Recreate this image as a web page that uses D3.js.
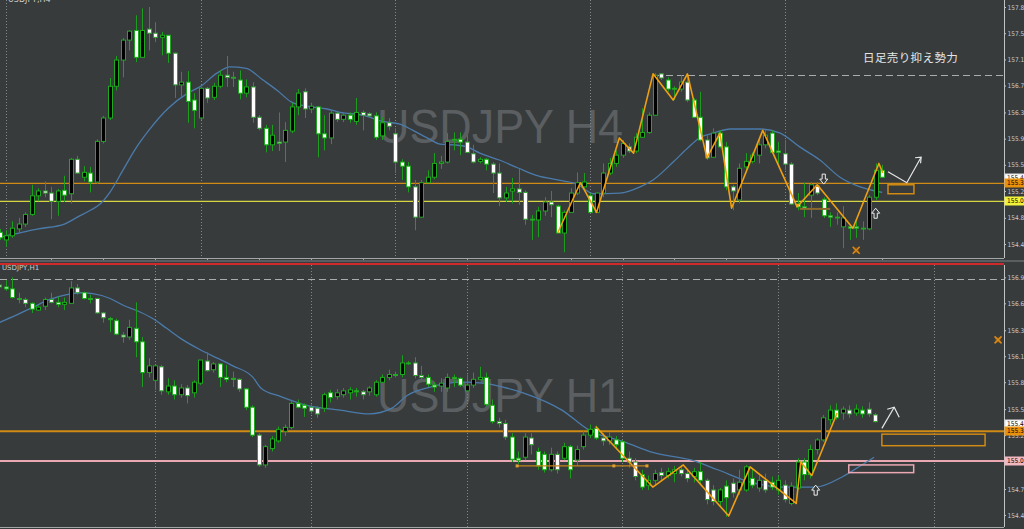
<!DOCTYPE html>
<html><head><meta charset="utf-8">
<script src="https://cdn.jsdelivr.net/npm/d3@7"></script>
<style>
html,body{margin:0;padding:0;background:#373b3c;overflow:hidden}
svg{display:block}
</style></head><body>
<svg id="chart" width="1024" height="529"></svg>
<script>
// ---------- USDJPY H4 : [open, high, low, close] ----------
const h4Candles = [
[154.61,154.66,154.50,154.53],[154.50,154.64,154.40,154.56],[154.56,154.77,154.53,154.67],[154.66,154.82,154.61,154.73],
[154.73,154.90,154.69,154.87],[154.87,155.30,154.85,155.14],[155.14,155.25,155.06,155.21],[155.21,155.35,155.12,155.18],
[155.18,155.27,154.80,155.06],[155.06,155.24,154.85,155.21],[155.22,155.43,155.05,155.15],[155.17,155.69,155.03,155.67],
[155.67,155.72,155.46,155.47],[155.41,155.57,155.35,155.48],[155.47,155.56,155.19,155.34],[155.34,155.96,155.31,155.93],
[155.93,156.30,155.90,156.27],[156.27,156.85,156.24,156.73],[156.73,157.17,156.67,157.11],[157.11,157.43,156.86,157.40],
[157.40,157.54,157.25,157.53],[157.54,157.76,157.08,157.15],[157.15,157.86,157.14,157.54],[157.56,157.88,157.25,157.50],
[157.50,157.66,157.37,157.44],[157.44,157.52,157.18,157.47],[157.47,157.47,157.07,157.21],[157.21,157.22,156.56,156.75],
[156.75,156.94,156.57,156.79],[156.79,156.95,156.20,156.51],[156.53,156.63,156.12,156.38],[156.27,156.72,156.24,156.70],
[156.70,156.72,156.49,156.56],[156.57,156.78,156.53,156.73],[156.73,156.96,156.70,156.89],[156.89,157.17,156.72,156.86],
[156.86,156.94,156.72,156.85],[156.82,156.96,156.54,156.63],[156.63,156.83,156.57,156.72],[156.72,156.79,156.20,156.28],
[156.28,156.31,156.09,156.12],[156.12,156.17,155.77,155.88],[155.88,156.17,155.79,156.02],[155.92,156.35,155.79,155.90],
[155.92,156.21,155.63,156.09],[156.08,156.49,156.05,156.43],[156.43,156.69,156.31,156.63],[156.65,156.70,156.27,156.40],
[156.40,156.49,156.34,156.44],[156.43,156.44,155.70,156.04],[156.04,156.31,155.80,155.98],[155.98,156.38,155.89,156.34],
[156.34,156.37,156.21,156.25],[156.25,156.34,156.21,156.31],[156.31,156.35,156.20,156.25],[156.22,156.56,156.17,156.35],
[156.35,156.38,156.09,156.31],[156.33,156.35,156.27,156.30],[156.30,156.35,155.95,155.99],[156.01,156.28,155.95,156.20],
[156.20,156.27,156.09,156.15],[156.04,156.12,155.47,155.63],[155.63,155.67,155.37,155.57],[155.57,155.63,155.19,155.27],
[155.27,155.37,154.64,154.83],[154.83,155.37,154.82,155.33],[155.33,155.51,155.33,155.41],[155.41,155.76,155.38,155.61],
[155.61,155.72,155.53,155.63],[155.63,156.05,155.61,155.93],[155.95,156.06,155.80,155.96],[155.96,156.06,155.73,155.92],
[155.92,156.02,155.76,155.77],[155.75,155.88,155.61,155.63],[155.64,155.70,155.61,155.67],[155.67,155.69,155.51,155.60],
[155.60,155.63,155.18,155.47],[155.47,155.61,154.99,155.11],[155.11,155.27,155.05,155.18],[155.21,155.40,155.03,155.24],
[155.24,155.53,155.01,155.19],[155.19,155.22,154.72,154.80],[154.80,154.86,154.50,154.79],[154.79,154.98,154.54,154.92],
[154.92,155.12,154.85,155.05],[155.05,155.21,154.83,155.01],[154.99,155.01,154.60,154.60],[154.60,154.93,154.32,154.90],
[154.90,155.25,154.89,155.18],[155.18,155.48,155.15,155.33],[155.27,155.47,155.25,155.34],[155.14,155.18,154.89,154.90],
[154.90,155.19,154.89,155.18],[155.18,155.61,155.12,155.47],[155.47,155.69,155.44,155.61],[155.61,155.80,155.56,155.73],
[155.73,155.95,155.69,155.90],[155.85,155.90,155.76,155.79],[155.79,156.05,155.76,155.99],[155.99,156.41,155.98,156.06],
[156.06,156.35,156.04,156.31],[156.31,156.92,156.30,156.89],[156.91,156.92,156.82,156.85],[156.82,156.86,156.65,156.69],
[156.70,156.73,156.53,156.69],[156.69,156.89,156.65,156.79],[156.79,156.91,156.50,156.53],[156.53,156.56,156.27,156.28],
[156.28,156.65,155.93,155.95],[155.95,156.02,155.66,155.69],[155.70,156.12,155.69,156.05],[156.05,156.09,155.83,155.85],
[155.85,155.92,155.22,155.27],[155.27,155.30,154.93,155.21],[155.08,155.61,155.03,155.54],[155.56,155.76,155.48,155.64],
[155.64,155.77,155.61,155.73],[155.73,155.98,155.61,155.88],[155.88,156.09,155.83,156.02],[156.05,156.09,155.76,155.77],
[155.79,155.92,155.61,155.77],[155.75,155.95,155.51,155.60],[155.60,155.63,155.01,155.02],[155.02,155.18,154.93,154.98],
[154.98,155.33,154.83,154.96],[155.15,155.34,154.82,155.30],[155.28,155.34,155.15,155.18],[155.09,155.12,154.82,154.85],
[154.85,154.90,154.69,154.83],[154.83,154.90,154.72,154.83],[154.69,154.99,154.38,154.82],[154.69,154.70,154.50,154.67],
[154.69,154.79,154.53,154.67],[154.67,154.77,154.50,154.66],[154.66,155.15,154.64,155.12],[155.12,155.61,155.08,155.51],
[155.51,155.59,155.40,155.41]
];
// moving average readings [bar, price]
const h4Ma = [[0,154.54],[3,154.60],[6,154.66],[10,154.73],[12,154.83],[14,154.93],[15.5,155.02],[17,155.19],[19,155.51],
[21,155.83],[23,156.09],[26,156.41],[29,156.63],[31,156.73],[33.5,156.92],[35.5,157.01],[38,156.99],[40.6,156.82],[42.8,156.67],
[45,156.50],[47.4,156.44],[50.5,156.40],[52.5,156.35],[56,156.31],[59,156.22],[61.7,156.18],[63.7,156.09],[66.3,155.96],
[67.9,155.89],[70,155.88],[72,155.85],[74,155.76],[77,155.66],[80,155.54],[83,155.43],[86,155.37],[89,155.31],[91.5,155.17],
[95.6,155.18],[98.7,155.27],[100.7,155.37],[103.8,155.63],[106,155.83],[108,155.99],[110,156.05],[112.6,156.11],[117.2,156.11],
[120.3,156.05],[123.3,155.85],[126.4,155.66],[129.5,155.41],[132.6,155.27],[136,155.19]];
// zigzag turning points [bar, price]
const h4Zigzag = [[86,154.60],[89.5,155.33],[92,154.90],[95.5,155.98],[97.7,155.76],[100.7,156.91],[103.8,156.53],[106,156.91],
[109,155.69],[111,156.05],[112.8,154.96],[117.6,156.09],[122.9,154.98],[126,155.30],[131.5,154.67],[135.5,155.61],[136.1,155.47]];
const h4Ticks = [157.88,157.50,157.12,156.74,156.35,155.97,155.59,155.21,154.82,154.44];
const h4GridBars = [1,31,61,91,121];

// ---------- USDJPY H1 : [open, high, low, close] ----------
const h1Candles = [
[156.84,156.86,156.80,156.82],[156.82,156.89,156.78,156.80],[156.80,156.92,156.70,156.71],[156.70,156.76,156.65,156.69],
[156.69,156.71,156.61,156.65],[156.65,156.66,156.55,156.59],[156.58,156.63,156.57,156.61],[156.62,156.71,156.58,156.69],
[156.69,156.76,156.65,156.66],[156.66,156.72,156.61,156.64],[156.64,156.71,156.58,156.66],[156.65,156.88,156.65,156.81],
[156.81,156.85,156.74,156.76],[156.76,156.77,156.69,156.70],[156.70,156.74,156.65,156.69],[156.70,156.70,156.54,156.55],
[156.55,156.56,156.45,156.50],[156.49,156.51,156.35,156.48],[156.47,156.49,156.32,156.33],[156.32,156.35,156.24,156.30],
[156.30,156.48,156.27,156.40],[156.39,156.66,156.09,156.25],[156.25,156.30,155.78,155.93],[155.93,156.08,155.88,156.00],
[155.85,156.01,155.75,156.00],[155.99,156.01,155.70,155.74],[155.73,155.87,155.70,155.79],[155.79,155.85,155.65,155.70],
[155.70,155.81,155.67,155.77],[155.77,155.80,155.61,155.69],[155.72,155.85,155.67,155.83],[155.82,156.06,155.80,156.06],
[156.05,156.14,155.94,155.95],[155.96,156.04,155.93,156.02],[156.02,156.03,155.78,155.88],[155.88,156.01,155.83,155.86],
[155.87,155.94,155.78,155.86],[155.86,155.87,155.73,155.76],[155.76,155.77,155.54,155.57],[155.57,155.59,155.26,155.28],
[155.28,155.30,154.95,154.97],[154.97,155.18,154.94,155.16],[155.14,155.27,155.11,155.24],[155.22,155.37,155.20,155.34],
[155.32,155.39,155.27,155.36],[155.36,155.64,155.34,155.61],[155.61,155.65,155.56,155.57],[155.59,155.61,155.47,155.56],
[155.57,155.60,155.50,155.53],[155.56,155.58,155.46,155.50],[155.56,155.72,155.52,155.70],[155.72,155.75,155.62,155.67],
[155.68,155.76,155.65,155.72],[155.70,155.77,155.67,155.74],[155.72,155.78,155.65,155.75],[155.74,155.77,155.68,155.73],
[155.73,155.75,155.65,155.70],[155.73,155.79,155.69,155.77],[155.70,155.85,155.68,155.83],[155.83,155.91,155.82,155.88],
[155.88,155.96,155.85,155.91],[155.91,155.94,155.88,155.90],[155.91,156.11,155.88,156.03],[156.03,156.05,156.01,156.03],
[156.03,156.09,155.87,155.90],[155.90,156.00,155.86,155.88],[155.88,155.91,155.78,155.81],[155.80,155.83,155.73,155.78],
[155.79,155.87,155.73,155.82],[155.77,155.92,155.73,155.88],[155.88,155.91,155.78,155.87],[155.87,155.88,155.78,155.80],
[155.74,155.91,155.73,155.80],[155.80,155.93,155.77,155.86],[155.86,155.99,155.85,155.88],[155.88,155.93,155.58,155.60],
[155.59,155.65,155.40,155.42],[155.42,155.46,155.36,155.40],[155.40,155.44,155.23,155.26],[155.26,155.30,155.00,155.03],
[155.04,155.11,154.98,155.02],[155.05,155.30,155.02,155.26],[155.25,155.30,155.08,155.18],[155.11,155.15,154.92,154.96],
[155.08,155.11,154.89,154.92],[154.92,155.15,154.90,155.08],[155.08,155.11,154.88,154.92],[155.04,155.20,155.02,155.16],
[155.16,155.18,154.83,154.92],[155.02,155.17,154.96,155.13],[155.16,155.32,155.13,155.28],[155.28,155.39,155.25,155.34],
[155.35,155.38,155.23,155.25],[155.25,155.30,155.17,155.22],[155.22,155.31,155.18,155.26],[155.23,155.27,155.13,155.18],
[155.21,155.23,155.00,155.04],[155.04,155.11,154.94,155.00],[155.00,155.04,154.81,154.85],[154.87,154.92,154.71,154.74],
[154.76,154.86,154.71,154.81],[154.81,154.92,154.76,154.88],[154.89,154.94,154.81,154.86],[154.86,154.94,154.83,154.90],
[154.88,154.96,154.79,154.92],[154.92,154.97,154.85,154.88],[154.88,154.92,154.79,154.83],[154.85,154.94,154.79,154.90],
[154.90,155.00,154.77,154.81],[154.81,154.83,154.56,154.61],[154.71,154.76,154.55,154.59],[154.59,154.73,154.53,154.71],
[154.75,154.81,154.43,154.63],[154.78,154.83,154.63,154.68],[154.71,154.92,154.66,154.79],[154.71,154.97,154.69,154.95],
[154.83,154.94,154.73,154.76],[154.73,154.86,154.69,154.81],[154.81,154.88,154.68,154.71],[154.79,154.85,154.71,154.74],
[154.71,154.86,154.66,154.81],[154.76,154.81,154.58,154.61],[154.57,154.79,154.55,154.75],[154.73,155.04,154.71,155.00],
[155.00,155.04,154.81,154.87],[154.87,155.18,154.83,155.13],[155.13,155.25,155.08,155.23],[155.23,155.49,155.21,155.46],
[155.44,155.59,155.39,155.54],[155.54,155.61,155.44,155.46],[155.51,155.58,155.44,155.55],[155.54,155.59,155.46,155.50],
[155.51,155.60,155.48,155.55],[155.54,155.58,155.46,155.50],[155.55,155.62,155.47,155.50],[155.49,155.51,155.41,155.42]
];
const h1Ma = [[0,156.45],[2.7,156.53],[5.2,156.61],[7.8,156.69],[10.4,156.74],[12.4,156.76],[14.4,156.75],[17.1,156.70],
[19.1,156.63],[21.7,156.56],[23.7,156.49],[25.8,156.39],[28.3,156.27],[30.9,156.17],[33.6,156.08],[36,156.00],[39.1,155.88],
[40.3,155.77],[43.4,155.68],[47.4,155.59],[52.5,155.54],[57,155.50],[60.5,155.56],[62.8,155.69],[66.4,155.78],[71.5,155.83],
[74.5,155.82],[77.6,155.78],[80.7,155.72],[86.7,155.54],[90.7,155.34],[96.7,155.20],[100.7,155.10],[106.7,155.02],
[110.7,154.92],[115.8,154.79],[120.9,154.74],[125.8,154.74],[130,154.85],[132.9,154.97],[134.8,155.05]];
const h1Zigzag = [[91.9,155.37],[100.7,154.74],[105.4,154.97],[112.4,154.44],[115.7,154.95],[122.8,154.57],[123.5,155.00],
[125.2,154.86],[129.1,155.51]];
const h1Ticks = [156.92,156.65,156.37,156.10,155.83,155.55,155.28,154.72,154.45];
const h1GridBars = [24,48,72,96,120,144];

// horizontal price levels
const h4Levels = [{p:155.32, kind:'orange'},{p:155.06, kind:'yellow'}];
const h1Levels = [{p:155.32, kind:'orange'},{p:155.01, kind:'pink'}];
const h4Tags = [{p:155.40, kind:'white'},{p:155.32, kind:'orange'},{p:155.06, kind:'yellow'}];
const h1Tags = [{p:155.40, kind:'white'},{p:155.32, kind:'orange'},{p:155.01, kind:'pink'}];
const dailyHigh = 156.90;

const svg = d3.select('#chart');
const AXIS_X = 1004;
const BG = '#373b3c';
const COL = {
  orange:'#d08b14', yellow:'#d6d642', pink:'#eaa8b2', white:'#ffffff',
  wick:'#1d9d1d', edge:'#21a821', ma:'#4b7bab', zig:'#f0a010', grid:'#80868a', axis:'#bfc3c4', text:'#c9cccd'
};
const TAGFILL = {white:'#ffffff', orange:'#e8910c', yellow:'#f2f23a', pink:'#f2b8c2'};
const AXIS_FONT = 'DejaVu Sans Condensed, Liberation Sans Narrow, sans-serif';

svg.append('rect').attr('width',1024).attr('height',529).attr('fill',BG);

function hollowArrow(g, cx, tipY, dir){
  // outlined block arrow, tip at (cx, tipY)
  const s = dir==='up' ? 1 : -1;
  const pts = [[0,0],[4,5],[1.6,5],[1.6,10],[-1.6,10],[-1.6,5],[-4,5]];
  g.append('path').attr('d','M'+pts.map(p=>[cx+p[0], tipY+s*p[1]].join(',')).join('L')+'Z')
    .attr('fill',BG).attr('stroke','#eeeeee').attr('stroke-width',1);
}
function crossMark(g, cx, cy){
  g.append('rect').attr('x',cx-3).attr('y',cy-3).attr('width',6).attr('height',6)
    .attr('fill','#7a4a10').attr('opacity',0.8);
  g.append('path').attr('d',`M${cx-3.5},${cy-3.5}L${cx+3.5},${cy+3.5}M${cx+3.5},${cy-3.5}L${cx-3.5},${cy+3.5}`)
    .attr('stroke','#d88a1a').attr('stroke-width',1.5);
}

function drawPanel(o){
  const g = svg.append('g');
  const clipId = 'clip'+o.id;
  svg.append('clipPath').attr('id',clipId).append('rect')
    .attr('x',0).attr('y',o.top).attr('width',AXIS_X).attr('height',o.bottom-o.top);
  const x = d3.scaleLinear().domain(o.xDomain).range(o.xRange);
  const y = d3.scaleLinear().domain(o.yDomain).range(o.yRange);
  const body = g.append('g').attr('clip-path',`url(#${clipId})`);

  // watermark
  body.append('text').attr('x',500).attr('y',o.markY).attr('text-anchor','middle')
    .attr('font-family','Liberation Sans, Arial, sans-serif').attr('font-size',49)
    .attr('textLength',246).attr('lengthAdjust','spacingAndGlyphs')
    .attr('fill','#5b5f61').text(o.mark);

  // vertical grid
  body.selectAll('line.grid').data(o.gridBars).join('line')
    .attr('x1',d=>Math.round(x(d))+0.5).attr('x2',d=>Math.round(x(d))+0.5)
    .attr('y1',o.top).attr('y2',o.bottom)
    .attr('stroke',COL.grid).attr('stroke-dasharray','1 2');

  // daily high dashed line
  body.append('line').attr('x1',o.dashFrom).attr('x2',AXIS_X)
    .attr('y1',Math.round(y(dailyHigh))+0.5).attr('y2',Math.round(y(dailyHigh))+0.5)
    .attr('stroke','#a9adae').attr('stroke-width',1.2).attr('stroke-dasharray','7 4');

  // price levels
  body.selectAll('line.lvl').data(o.levels).join('line')
    .attr('x1',0).attr('x2',AXIS_X)
    .attr('y1',d=>y(d.p)).attr('y2',d=>y(d.p))
    .attr('stroke',d=>COL[d.kind]).attr('stroke-width',o.levelWidth);

  // moving average
  body.append('path').datum(o.ma)
    .attr('d',d3.line().x(d=>x(d[0])).y(d=>y(d[1])).curve(d3.curveMonotoneX))
    .attr('fill','none').attr('stroke',COL.ma).attr('stroke-width',1.3);

  // candles
  const c = body.append('g');
  c.selectAll('line').data(o.candles).join('line')
    .attr('x1',(d,i)=>Math.round(x(i))+0.5).attr('x2',(d,i)=>Math.round(x(i))+0.5)
    .attr('y1',d=>y(d[1])).attr('y2',d=>y(d[2]))
    .attr('stroke',COL.wick).attr('stroke-width',1);
  c.selectAll('rect').data(o.candles).join('rect')
    .attr('x',(d,i)=>Math.round(x(i))-1.5)
    .attr('width',4)
    .attr('y',d=>y(Math.max(d[0],d[3])))
    .attr('height',d=>Math.max(0.8,Math.abs(y(d[0])-y(d[3]))))
    .attr('fill',d=>d[3]>=d[0]?'#000000':'#ffffff')
    .attr('stroke',COL.edge).attr('stroke-width',1);

  // zigzag
  body.append('path').datum(o.zig)
    .attr('d',d3.line().x(d=>x(d[0])).y(d=>y(d[1])))
    .attr('fill','none').attr('stroke',COL.zig).attr('stroke-width',1.6).attr('stroke-linejoin','round');

  // price axis
  g.append('line').attr('x1',AXIS_X+0.5).attr('x2',AXIS_X+0.5).attr('y1',o.top).attr('y2',o.bottom)
    .attr('stroke',COL.axis);
  const ax = g.append('g').attr('transform',`translate(${AXIS_X},0)`)
    .call(d3.axisRight(y).tickValues(o.ticks).tickSize(2).tickPadding(1.5).tickFormat(d3.format('.2f')));
  ax.select('.domain').remove();
  ax.selectAll('line').attr('stroke',COL.axis);
  ax.selectAll('text').attr('fill',COL.text).attr('font-size',6.5).attr('font-family',AXIS_FONT);

  // highlighted price tags
  const tg = g.selectAll('g.tag').data(o.tags).join('g')
    .attr('transform',d=>`translate(${AXIS_X+1},${Math.round(y(d.p))})`);
  tg.append('rect').attr('x',0).attr('y',-4).attr('width',20).attr('height',8)
    .attr('fill',d=>TAGFILL[d.kind]).attr('stroke',d=>d.kind==='white'?'#dddddd':TAGFILL[d.kind]);
  tg.append('text').attr('x',2).attr('y',2.4).attr('font-size',6.5).attr('font-family',AXIS_FONT)
    .attr('fill','#000').text(d=>d3.format('.2f')(d.p));

  return {g, body, x, y};
}

// ---------- upper panel (H4) ----------
const h4Panel = drawPanel({
  id:'h4', top:0, bottom:258, candles:h4Candles, ma:h4Ma, zig:h4Zigzag, ticks:h4Ticks,
  gridBars:h4GridBars, levels:h4Levels, tags:h4Tags, levelWidth:1.3,
  xDomain:[0,136], xRange:[-0.49,882.15], yDomain:[154.44,157.88], yRange:[244.04,7.03],
  mark:'USDJPY H4', markY:143, dashFrom:655
});
// ---------- lower panel (H1) ----------
const h1Panel = drawPanel({
  id:'h1', top:265, bottom:527, candles:h1Candles, ma:h1Ma, zig:h1Zigzag, ticks:h1Ticks,
  gridBars:h1GridBars, levels:h1Levels, tags:h1Tags, levelWidth:2,
  xDomain:[0,135], xRange:[-0.76,875.39], yDomain:[154.45,156.92], yRange:[514.96,277.35],
  mark:'USDJPY H1', markY:412, dashFrom:0
});

// panel frames
svg.append('line').attr('x1',0).attr('x2',AXIS_X).attr('y1',258.5).attr('y2',258.5).attr('stroke','#a3a7a8');
svg.selectAll('line.tk').data(d3.range(8,140,8)).join('line')
  .attr('x1',d=>Math.round(h4Panel.x(d))+0.5).attr('x2',d=>Math.round(h4Panel.x(d))+0.5)
  .attr('y1',258).attr('y2',261).attr('stroke','#a3a7a8');
svg.append('rect').attr('x',0).attr('y',260).attr('width',1024).attr('height',2).attr('fill','#5a5e60');
svg.append('rect').attr('x',0).attr('y',263).attr('width',AXIS_X).attr('height',2).attr('fill','#d22a2a');
svg.append('line').attr('x1',0).attr('x2',AXIS_X).attr('y1',527.5).attr('y2',527.5).attr('stroke','#a3a7a8');

// symbol captions
svg.append('text').attr('x',8).attr('y',2).attr('font-size',8).attr('fill',COL.text)
  .attr('font-family','DejaVu Sans, sans-serif').text('USDJPY,H4');
svg.append('text').attr('x',2).attr('y',270).attr('font-size',7).attr('fill',COL.text)
  .attr('font-family','DejaVu Sans, sans-serif').text('USDJPY,H1');

// annotation
svg.append('text').attr('x',863).attr('y',62).attr('font-size',11.5).attr('fill','#e4e6e6')
  .attr('font-family','Noto Sans CJK JP, sans-serif').attr('letter-spacing',0.4).text('日足売り抑え勢力');

// ----- drawing objects on H4 -----
(function(){
  const {body, x, y} = h4Panel;
  const boxes = [{b0:136.9,b1:140.9,p0:155.30,p1:155.17}];
  body.selectAll('rect.box').data(boxes).join('rect')
    .attr('x',d=>x(d.b0)).attr('y',d=>y(d.p0)).attr('width',d=>x(d.b1)-x(d.b0)).attr('height',d=>y(d.p1)-y(d.p0))
    .attr('fill','none').attr('stroke',COL.orange).attr('stroke-width',1.5);
  // forecast path
  const path = [[136.9,155.49],[139.8,155.33],[142,155.70]];
  body.append('path').attr('d',d3.line().x(d=>x(d[0])).y(d=>y(d[1]))(path))
    .attr('fill','none').attr('stroke','#e6e6e6').attr('stroke-width',1.2);
  const tip = path[2];
  body.append('path').attr('d',`M${x(tip[0])-6},${y(tip[1])+0.5}L${x(tip[0])},${y(tip[1])}L${x(tip[0])-0.5},${y(tip[1])+6}`)
    .attr('fill','none').attr('stroke','#e6e6e6').attr('stroke-width',1.2);
  // support line
  body.append('line').attr('x1',x(123.3)).attr('x2',x(128)).attr('y1',y(154.95)).attr('y2',y(154.95))
    .attr('stroke','#8c6a2c').attr('stroke-width',2);
  hollowArrow(body, x(127), y(155.31), 'down');
  hollowArrow(body, x(135), y(154.96), 'up');
  crossMark(body, x(132), y(154.35));
})();

// ----- drawing objects on H1 -----
(function(){
  const {body, x, y} = h1Panel;
  const boxes = [{b0:136,b1:151.9,p0:155.29,p1:155.17,kind:'orange'},{b0:130.9,b1:140.9,p0:154.97,p1:154.89,kind:'pink'}];
  body.selectAll('rect.box').data(boxes).join('rect')
    .attr('x',d=>x(d.b0)).attr('y',d=>y(d.p0)).attr('width',d=>x(d.b1)-x(d.b0)).attr('height',d=>y(d.p1)-y(d.p0))
    .attr('fill','none').attr('stroke',d=>COL[d.kind]).attr('stroke-width',1.5);
  const s = [[136,155.35],[137.9,155.57]];
  body.append('path').attr('d',d3.line().x(d=>x(d[0])).y(d=>y(d[1]))(s))
    .attr('fill','none').attr('stroke','#e6e6e6').attr('stroke-width',1.2);
  const tx = x(s[1][0]), ty = y(s[1][1]);
  body.append('path').attr('d',`M${tx-7},${ty+2}L${tx},${ty}L${tx+5},${ty+10}`)
    .attr('fill','none').attr('stroke','#e6e6e6').attr('stroke-width',1.2);
  // range line
  body.append('line').attr('x1',x(79.8)).attr('x2',x(99.8)).attr('y1',y(154.96)).attr('y2',y(154.96))
    .attr('stroke','#c48418').attr('stroke-width',1.2);
  [79.8,94.7,99.8].forEach(b=>body.append('rect').attr('x',x(b)-1.5).attr('y',y(154.96)-1.5)
    .attr('width',3).attr('height',3).attr('fill','#e0a030'));
  hollowArrow(body, x(125.8), y(154.76), 'up');
  crossMark(svg, x(153.9), y(156.27));
})();
</script>
</body></html>
